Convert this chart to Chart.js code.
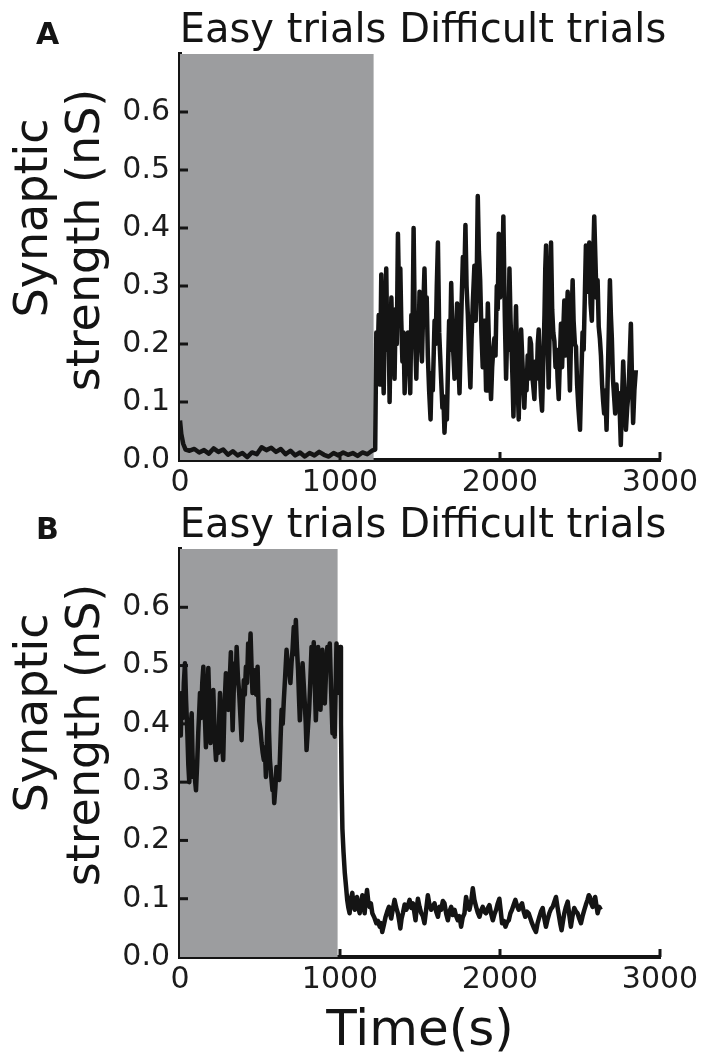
<!DOCTYPE html>
<html>
<head>
<meta charset="utf-8">
<script src="https://cdn.jsdelivr.net/npm/chart.js@4"></script>
<style>
  body { margin: 0; background: #fff; }
  canvas { position: absolute; left: 0; }
  #panelA { top: 0; }
  #panelB { top: 493px; }
</style>
</head>
<body>
<canvas id="panelA" width="708" height="500"></canvas>
<canvas id="panelB" width="708" height="563"></canvas>
<script>
const xTicks = [0, 1000, 2000, 3000];
const yTicks = [0, 0.1, 0.2, 0.3, 0.4, 0.5, 0.6];
const easyEnd = [1210, 985];
const phaseLabels = ["Easy trials", "Difficult trials"];

// panel A: easy trials first, then difficult ones
const timeA = [
  0, 8, 20, 35, 60, 90, 120, 150, 180, 210, 240, 270, 300, 330, 360, 390, 420, 450, 480, 510,
  540, 570, 600, 630, 660, 690, 720, 750, 780, 810, 840, 870, 900, 930, 960, 990, 1020, 1050,
  1080, 1110, 1140, 1170, 1200, 1220,
  1227, 1234, 1242, 1250, 1258, 1265, 1273, 1280, 1289, 1296,
  1303, 1310, 1316, 1321, 1330, 1336, 1341, 1348, 1355, 1362,
  1370, 1377, 1383, 1390, 1397, 1404, 1411, 1418, 1425, 1432,
  1439, 1446, 1453, 1460, 1468, 1477, 1484, 1490, 1497, 1504,
  1512, 1520, 1528, 1535, 1542, 1549, 1557, 1566, 1573, 1580,
  1591, 1598, 1605, 1612, 1620, 1626, 1632, 1640, 1646, 1653,
  1660, 1668, 1675, 1682, 1688, 1695, 1702, 1709, 1716, 1724,
  1732, 1740, 1747, 1754, 1761, 1768, 1776, 1784, 1791, 1799,
  1807, 1815, 1822, 1830, 1840, 1848, 1854, 1861, 1868, 1876,
  1884, 1892, 1900, 1906, 1913, 1918, 1924, 1932, 1938, 1944,
  1951, 1958, 1965, 1972, 1980, 1986, 1992, 2000, 2008, 2014,
  2021, 2030, 2038, 2045, 2052, 2059, 2066, 2075, 2080, 2084,
  2092, 2100, 2108, 2117, 2124, 2132, 2140, 2146, 2152, 2160,
  2166, 2173, 2180, 2187, 2194, 2200, 2207, 2215, 2222, 2230,
  2236, 2242, 2250, 2256, 2263, 2270, 2278, 2283, 2288, 2296,
  2304, 2310, 2314, 2319, 2326, 2333, 2340, 2347, 2354, 2360,
  2367, 2374, 2381, 2388, 2395, 2402, 2409, 2416, 2423, 2430,
  2437, 2444, 2449, 2454, 2460, 2468, 2475, 2482, 2490, 2495,
  2500, 2508, 2516, 2523, 2530, 2537, 2545, 2551, 2558, 2566,
  2574, 2580, 2589, 2596, 2603, 2610, 2617, 2624, 2631, 2638,
  2645, 2651, 2658, 2666, 2673, 2680, 2687, 2693, 2699, 2706,
  2713, 2720, 2728, 2736, 2745, 2750, 2755, 2762, 2770, 2778,
  2787, 2795, 2803, 2810, 2818, 2825, 2832, 2840, 2849
];
const strengthA = [
  0.068, 0.045, 0.028, 0.018, 0.016, 0.019, 0.013, 0.017, 0.011, 0.02, 0.014, 0.018, 0.009,
  0.015, 0.008, 0.012, 0.005, 0.013, 0.01, 0.022, 0.017, 0.021, 0.014, 0.019, 0.01, 0.016,
  0.008, 0.013, 0.006, 0.012, 0.008, 0.014, 0.009, 0.006, 0.012, 0.008, 0.013, 0.009, 0.012,
  0.007, 0.013, 0.01, 0.016, 0.018,
  0.22, 0.16, 0.25, 0.13, 0.32, 0.20, 0.115, 0.24, 0.33, 0.19,
  0.26, 0.10, 0.21, 0.28, 0.18, 0.23, 0.14, 0.26, 0.20, 0.39,
  0.27, 0.33, 0.24, 0.17, 0.22, 0.115, 0.19, 0.16, 0.22, 0.17,
  0.115, 0.25, 0.21, 0.40, 0.22, 0.14, 0.23, 0.19, 0.29, 0.21,
  0.17, 0.26, 0.33, 0.24, 0.28, 0.18, 0.12, 0.07, 0.15, 0.12,
  0.24, 0.20, 0.30, 0.375, 0.22, 0.18, 0.14, 0.09, 0.11, 0.047,
  0.09, 0.07, 0.16, 0.24, 0.19, 0.305, 0.22, 0.18, 0.14, 0.21,
  0.27, 0.17, 0.115, 0.20, 0.28, 0.35, 0.30, 0.405, 0.30, 0.25,
  0.18, 0.125, 0.21, 0.27, 0.335, 0.24, 0.30, 0.455, 0.36, 0.31,
  0.22, 0.16, 0.24, 0.21, 0.12, 0.18, 0.27, 0.19, 0.15, 0.105,
  0.16, 0.19, 0.21, 0.18, 0.30, 0.26, 0.39, 0.28, 0.34, 0.30,
  0.42, 0.25, 0.14, 0.22, 0.19, 0.33, 0.24, 0.17, 0.12, 0.075,
  0.17, 0.265, 0.15, 0.07, 0.16, 0.225, 0.17, 0.13, 0.09, 0.15,
  0.12, 0.18, 0.14, 0.21, 0.20, 0.15, 0.13, 0.105, 0.17, 0.14,
  0.20, 0.225, 0.15, 0.11, 0.085, 0.16, 0.25, 0.33, 0.37, 0.24,
  0.125, 0.22, 0.30, 0.375, 0.26, 0.22, 0.205, 0.16, 0.19, 0.14,
  0.105, 0.17, 0.235, 0.16, 0.22, 0.275, 0.18, 0.24, 0.29, 0.19,
  0.12, 0.21, 0.26, 0.31, 0.24, 0.20, 0.195, 0.13, 0.09, 0.07,
  0.052, 0.14, 0.22, 0.19, 0.28, 0.37, 0.29, 0.33, 0.375, 0.27,
  0.24, 0.32, 0.42, 0.35, 0.28, 0.31, 0.23, 0.21, 0.18, 0.13,
  0.10, 0.08, 0.12, 0.052, 0.14, 0.22, 0.31, 0.25, 0.21, 0.14,
  0.11, 0.08, 0.13, 0.09, 0.115, 0.07, 0.026, 0.10, 0.17, 0.11,
  0.052, 0.09, 0.115, 0.17, 0.235, 0.14, 0.064, 0.12, 0.155
];

// panel B
const timeB = [
  0, 5, 10, 18, 24, 31, 38, 46, 52, 58,
  64, 68, 73, 78, 83, 90, 95, 100, 107, 114,
  120, 125, 132, 139, 146, 152, 157, 162, 169, 177,
  184, 191, 199, 208, 215, 220, 225, 232, 239, 245,
  250, 258, 264, 270, 278, 287, 294, 302, 310, 318,
  323, 329, 336, 343, 348, 354, 362, 370, 378, 385,
  392, 399, 405, 412, 419, 426, 433, 441, 447, 453,
  460, 468, 476, 485, 490, 495, 503, 510, 517, 524,
  530, 537, 544, 551, 556, 562, 570, 578, 584, 589,
  596, 603, 611, 620, 628, 635, 642, 649, 657, 666,
  674, 682, 690, 697, 704, 711, 717, 724, 731, 738,
  743, 749, 757, 766, 773, 780, 786, 791, 799, 807,
  814, 822, 829, 836, 842, 849, 856, 863, 870, 878,
  884, 890, 897, 905, 913, 921, 928, 936, 944, 953,
  960, 967, 972, 978, 985, 992, 997, 1002, 1006, 1010,
  1015, 1022, 1030, 1038, 1045, 1052,
  1060, 1068, 1077, 1084, 1092, 1099, 1106, 1114, 1123, 1131,
  1140, 1147, 1154, 1161, 1169, 1177, 1185, 1193, 1202, 1214,
  1227, 1237, 1248, 1256, 1264, 1274, 1285, 1295, 1306, 1313,
  1320, 1330, 1341, 1351, 1362, 1370, 1377, 1385, 1393, 1404,
  1414, 1425, 1435, 1446, 1456, 1464, 1472, 1480, 1487, 1497,
  1508, 1518, 1528, 1538, 1549, 1559, 1570, 1580, 1591, 1601,
  1612, 1622, 1632, 1643, 1653, 1664, 1674, 1684, 1695, 1705,
  1716, 1726, 1736, 1747, 1757, 1767, 1778, 1783, 1788, 1798,
  1809, 1820, 1830, 1840, 1851, 1861, 1872, 1882, 1892, 1902,
  1913, 1924, 1934, 1944, 1955, 1966, 1976, 1986, 1996, 2005,
  2013, 2024, 2034, 2045, 2055, 2065, 2075, 2086, 2096, 2106,
  2117, 2128, 2138, 2148, 2158, 2168, 2179, 2190, 2200, 2212,
  2225, 2235, 2246, 2256, 2267, 2277, 2287, 2298, 2308, 2318,
  2329, 2340, 2350, 2358, 2366, 2376, 2385, 2394, 2402, 2412,
  2423, 2433, 2443, 2453, 2464, 2475, 2485, 2495, 2506, 2516,
  2527, 2537, 2547, 2555, 2562, 2570, 2579, 2587, 2595, 2603,
  2610, 2620, 2630
];
const strengthB = [
  0.45, 0.38, 0.453, 0.41, 0.47, 0.504, 0.44, 0.384, 0.33, 0.30,
  0.36, 0.40, 0.418, 0.35, 0.309, 0.33, 0.30, 0.286, 0.33, 0.384,
  0.42, 0.453, 0.41, 0.47, 0.498, 0.43, 0.40, 0.36, 0.44, 0.496,
  0.43, 0.367, 0.42, 0.458, 0.40, 0.36, 0.338, 0.37, 0.35, 0.41,
  0.453, 0.39, 0.36, 0.338, 0.43, 0.487, 0.45, 0.424, 0.47, 0.523,
  0.45, 0.389, 0.46, 0.504, 0.47, 0.532, 0.48, 0.453, 0.41, 0.372,
  0.43, 0.475, 0.45, 0.498, 0.47, 0.538, 0.50, 0.555, 0.50, 0.453,
  0.47, 0.492, 0.45, 0.498, 0.44, 0.406, 0.39, 0.367, 0.35, 0.338,
  0.36, 0.309, 0.38, 0.441, 0.39, 0.338, 0.31, 0.286, 0.30, 0.264,
  0.29, 0.326, 0.31, 0.304, 0.37, 0.424, 0.40, 0.441, 0.48, 0.527,
  0.50, 0.492, 0.47, 0.504, 0.53, 0.566, 0.52, 0.578, 0.53, 0.492,
  0.45, 0.406, 0.45, 0.504, 0.47, 0.435, 0.40, 0.355, 0.39, 0.424,
  0.47, 0.532, 0.49, 0.54, 0.47, 0.406, 0.46, 0.532, 0.47, 0.424,
  0.47, 0.527, 0.48, 0.435, 0.49, 0.532, 0.50, 0.538, 0.46, 0.384,
  0.42, 0.378, 0.45, 0.538, 0.49, 0.453, 0.50, 0.532, 0.40, 0.30,
  0.22, 0.18, 0.144, 0.12, 0.098, 0.085,
  0.075, 0.10, 0.11, 0.09, 0.081, 0.095, 0.103, 0.085, 0.075, 0.092,
  0.106, 0.088, 0.075, 0.098, 0.115, 0.095, 0.086, 0.092, 0.075, 0.068,
  0.058, 0.062, 0.052, 0.058, 0.043, 0.055, 0.069, 0.078, 0.086, 0.074,
  0.066, 0.082, 0.098, 0.085, 0.075, 0.062, 0.049, 0.066, 0.075, 0.09,
  0.081, 0.088, 0.098, 0.084, 0.092, 0.078, 0.063, 0.085, 0.10, 0.086,
  0.075, 0.07, 0.058, 0.08, 0.106, 0.09, 0.081, 0.086, 0.092, 0.078,
  0.069, 0.086, 0.081, 0.096, 0.092, 0.074, 0.063, 0.078, 0.086, 0.072,
  0.081, 0.07, 0.063, 0.07, 0.052, 0.068, 0.075, 0.09, 0.103, 0.088,
  0.081, 0.095, 0.118, 0.098, 0.086, 0.076, 0.069, 0.08, 0.086, 0.078,
  0.075, 0.084, 0.089, 0.075, 0.063, 0.074, 0.081, 0.092, 0.10, 0.078,
  0.058, 0.062, 0.052, 0.06, 0.063, 0.075, 0.081, 0.09, 0.098, 0.088,
  0.081, 0.088, 0.092, 0.078, 0.069, 0.078, 0.075, 0.066, 0.058, 0.05,
  0.043, 0.058, 0.069, 0.078, 0.084, 0.066, 0.052, 0.065, 0.075, 0.082,
  0.086, 0.095, 0.103, 0.088, 0.075, 0.058, 0.046, 0.062, 0.075, 0.086,
  0.095, 0.072, 0.052, 0.07, 0.084, 0.078, 0.075, 0.066, 0.058, 0.07,
  0.081, 0.09, 0.098, 0.106, 0.103, 0.092, 0.086, 0.095, 0.103, 0.088,
  0.075, 0.086, 0.081
];

const FONT = "'DejaVu Sans', sans-serif";
const INK = "#141414";

// grey box, inward ticks and all the loose texts of one panel
const panelDecor = {
  id: "panelDecor",
  beforeDatasetsDraw(chart, args, opts) {
    const { ctx, chartArea } = chart;
    const x = chart.scales.x;
    ctx.save();
    ctx.fillStyle = "#9c9d9f";
    const x0 = x.getPixelForValue(0);
    const x1 = x.getPixelForValue(opts.easyEnd);
    ctx.fillRect(x0, chartArea.top, x1 - x0, chartArea.bottom - chartArea.top);
    ctx.restore();
  },
  afterDraw(chart, args, opts) {
    const { ctx, chartArea } = chart;
    const x = chart.scales.x;
    const y = chart.scales.y;
    ctx.save();
    ctx.strokeStyle = INK;
    ctx.lineWidth = 3;
    yTicks.slice(1).forEach((v) => {
      const py = y.getPixelForValue(v);
      ctx.beginPath();
      ctx.moveTo(chartArea.left, py);
      ctx.lineTo(chartArea.left + 8, py);
      ctx.stroke();
    });
    xTicks.slice(1).forEach((v) => {
      const px = x.getPixelForValue(v);
      ctx.beginPath();
      ctx.moveTo(px, chartArea.bottom);
      ctx.lineTo(px, chartArea.bottom - 8);
      ctx.stroke();
    });

    ctx.fillStyle = INK;
    ctx.textBaseline = "alphabetic";
    ctx.font = "bold 30px " + FONT;
    ctx.textAlign = "left";
    ctx.fillText(opts.letter, 36, chartArea.top - 10);

    ctx.font = "40px " + FONT;
    ctx.textAlign = "center";
    ctx.fillText(phaseLabels.join(" "), (chartArea.left + chartArea.right) / 2 + 3, chartArea.top - 12);

    ctx.font = "46px " + FONT;
    ctx.textBaseline = "middle";
    [["Synaptic", 35, 164], ["strength (nS)", 87, 186]].forEach(([txt, tx, ty]) => {
      ctx.save();
      ctx.translate(tx, chartArea.top + ty);
      ctx.rotate(-Math.PI / 2);
      ctx.fillText(txt, 0, 0);
      ctx.restore();
    });

    if (opts.xTitle) {
      ctx.font = "50px " + FONT;
      ctx.textBaseline = "alphabetic";
      ctx.fillText(opts.xTitle, (chartArea.left + chartArea.right) / 2, chartArea.bottom + 88);
    }
    ctx.restore();
  },
};

function makePanel(id, times, values, end, letter, xTitle, top, xHeight) {
  return new Chart(document.getElementById(id), {
    type: "line",
    data: {
      datasets: [
        {
          data: times.map((t, i) => ({ x: t, y: values[i] })),
          borderColor: INK,
          borderWidth: 4.5,
          borderJoinStyle: "round",
          pointRadius: 0,
          tension: 0,
        },
      ],
    },
    options: {
      responsive: false,
      animation: false,
      layout: { padding: { top: top, right: 48, bottom: 0, left: 0 } },
      plugins: {
        legend: { display: false },
        tooltip: { enabled: false },
        panelDecor: { easyEnd: end, letter: letter, xTitle: xTitle },
      },
      scales: {
        x: {
          type: "linear",
          min: 0,
          max: 3000,
          afterFit: (s) => { s.height = xHeight; },
          afterBuildTicks: (s) => { s.ticks = xTicks.map((v) => ({ value: v })); },
          grid: { drawOnChartArea: false, drawTicks: false },
          border: { color: INK, width: 4 },
          ticks: {
            color: "#1c1c1c",
            padding: 5,
            autoSkip: false,
            maxRotation: 0,
            font: { family: FONT, size: 30 },
            callback: (v) => String(v),
          },
        },
        y: {
          min: 0,
          max: 0.7,
          afterFit: (s) => { s.width = 180; },
          afterBuildTicks: (s) => { s.ticks = yTicks.map((v) => ({ value: v })); },
          grid: { drawOnChartArea: false, drawTicks: false },
          border: { color: INK, width: 4 },
          ticks: {
            color: "#1c1c1c",
            padding: 10,
            font: { family: FONT, size: 30 },
            callback: (v) => v.toFixed(1),
          },
        },
      },
    },
    plugins: [panelDecor],
  });
}

makePanel("panelA", timeA, strengthA, easyEnd[0], "A", null, 54, 40);
makePanel("panelB", timeB, strengthB, easyEnd[1], "B", "Time(s)", 56, 99);
</script>
</body>
</html>
